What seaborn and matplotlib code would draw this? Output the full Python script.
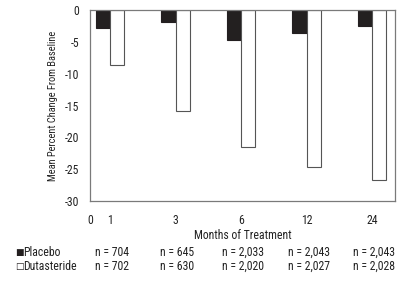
import pandas as pd
import matplotlib
matplotlib.use('Agg')
import matplotlib.pyplot as plt
import seaborn as sns

# values
months = ['1', '3', '6', '12', '24']
placebo = [-2.9, -1.9, -4.7, -3.6, -2.5]
dutasteride = [-8.7, -15.8, -21.5, -24.6, -26.7]
n_placebo = ['704', '645', '2,033', '2,043', '2,043']
n_dutasteride = ['702', '630', '2,020', '2,027', '2,028']
yticks = [0, -5, -10, -15, -20, -25, -30]

df = pd.DataFrame({
    'month': months * 2,
    'change': placebo + dutasteride,
    'group': ['Placebo'] * len(months) + ['Dutasteride'] * len(months),
})

sns.set_style('white')
plt.rcParams['font.family'] = ['Roboto Condensed', 'Liberation Sans Narrow',
                               'Liberation Sans', 'DejaVu Sans']
fs = 8.5
axis_grey = '#7a7a7a'
ink = '#222222'

fig = plt.figure(figsize=(4, 2.82), dpi=100)
ax = fig.add_axes([0.225, 0.287, 0.7625, 0.6775])

sns.barplot(data=df, x='month', y='change', hue='group', order=months,
            hue_order=['Placebo', 'Dutasteride'],
            palette={'Placebo': '#231f20', 'Dutasteride': 'white'},
            width=0.43, gap=0, legend=False, ax=ax)

# outline colours per series
for cont, ec in zip(ax.containers, ['#231f20', '#555555']):
    for bar in cont:
        bar.set_edgecolor(ec)
        bar.set_linewidth(0.8)

ax.set_xlim(-0.305, 4.35)
ax.set_ylim(-30, 0)
ax.set_yticks(yticks)
ax.set_yticklabels([str(v) for v in yticks])
ax.set_xticks([-0.305, 0, 1, 2, 3, 4])
ax.set_xticklabels(['0'] + months)
ax.xaxis.get_major_ticks()[0].tick1line.set_visible(False)

for sp in ax.spines.values():
    sp.set_visible(True)
    sp.set_color(axis_grey)
    sp.set_linewidth(0.9)
ax.tick_params(axis='both', direction='out', length=6, width=0.9,
               color=axis_grey, labelsize=fs, pad=1.5, labelcolor=ink)
ax.tick_params(axis='x', pad=3)
ax.set_xlabel('Months of Treatment', fontsize=fs, color=ink, labelpad=1.5)
ax.set_ylabel('Mean Percent Change From Baseline', fontsize=7.5,
              color=ink, labelpad=5)

# sample size table under the axis
trans = matplotlib.transforms.blended_transform_factory(ax.transData, fig.transFigure)
for i, (a, b) in enumerate(zip(n_placebo, n_dutasteride)):
    ax.text(i + 0.03, 1 - 252.5 / 282, 'n = ' + a, transform=trans,
            ha='center', va='center', fontsize=fs, color=ink)
    ax.text(i + 0.03, 1 - 266.5 / 282, 'n = ' + b, transform=trans,
            ha='center', va='center', fontsize=fs, color=ink)

fig.text(15 / 400, 1 - 252.5 / 282, '■', fontsize=6.5, family='DejaVu Sans',
         ha='left', va='center', color='#231f20')
fig.text(15 / 400, 1 - 266.5 / 282, '□', fontsize=6.5, family='DejaVu Sans',
         ha='left', va='center', color='#231f20')
fig.text(23.5 / 400, 1 - 252.5 / 282, 'Placebo', fontsize=fs,
         ha='left', va='center', color=ink)
fig.text(23.5 / 400, 1 - 266.5 / 282, 'Dutasteride', fontsize=fs,
         ha='left', va='center', color=ink)

fig.savefig('out.png', dpi=100)
